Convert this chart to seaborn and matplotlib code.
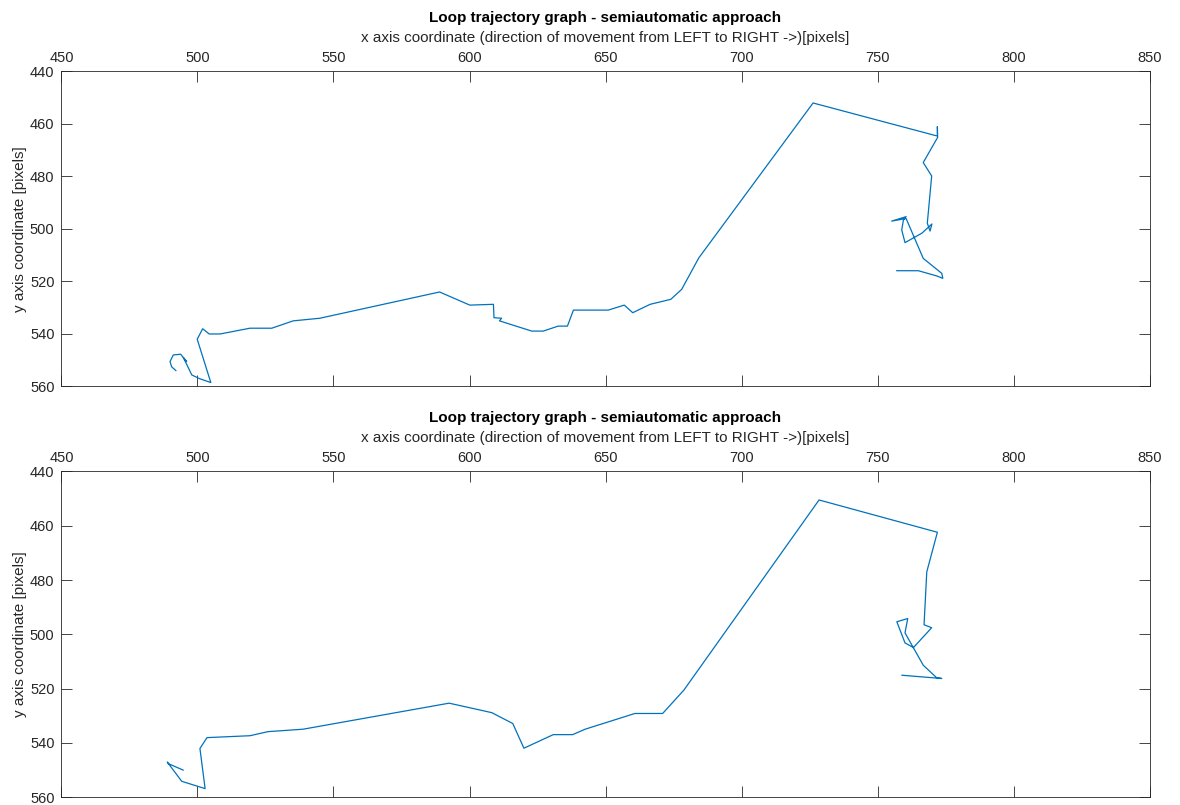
import numpy as np
import pandas as pd
import seaborn as sns
import matplotlib.pyplot as plt

# trajectory points (x, y in pixels)
x_top = [492.1, 490.5, 489.9, 491.1, 493.8, 496.0, 494.8, 496.0, 497.9, 499.7,
         500.7, 504.9, 499.9, 501.9, 504.3, 508.3, 519.3, 527.3, 535.2, 545.0,
         589.0, 600.1, 608.8, 609.0, 611.8, 611.0, 622.9, 627.1, 632.6, 636.0,
         638.2, 651.0, 656.9, 660.0, 666.4, 674.0, 678.0, 684.3, 726.3, 772.0,
         772.0, 772.1, 766.8, 769.9, 768.3, 769.3, 770.0, 766.3, 760.1, 758.9,
         759.5, 760.5, 755.2, 760.5, 766.8, 773.6, 774.0, 771.8, 765.0, 757.0]
y_top = [554.0, 552.5, 550.5, 548.0, 547.7, 550.5, 549.0, 551.5, 555.6, 556.5,
         557.0, 558.5, 542.0, 538.0, 540.0, 540.0, 537.8, 537.8, 535.0, 534.0,
         524.0, 529.0, 528.7, 533.8, 534.0, 535.0, 538.9, 538.9, 537.0, 537.0,
         530.9, 530.9, 529.0, 531.9, 528.7, 526.8, 523.0, 511.0, 452.0, 464.6,
         461.0, 465.1, 474.7, 479.8, 497.8, 500.8, 498.1, 501.6, 505.2, 500.4,
         496.6, 495.3, 497.0, 496.0, 511.2, 516.9, 518.8, 517.9, 515.9, 515.9]

x_bot = [494.8, 489.3, 488.9, 494.2, 502.8, 500.9, 503.5, 519.3, 525.9, 538.8,
         592.5, 608.2, 615.9, 620.0, 630.8, 637.9, 642.5, 660.8, 671.0, 678.8,
         728.5, 772.0, 768.1, 767.1, 769.9, 763.2, 760.1, 757.1, 761.1, 760.1,
         766.8, 771.7, 773.6, 758.9]
y_bot = [550.1, 547.7, 547.1, 554.2, 556.9, 542.1, 538.1, 537.4, 535.9, 535.0,
         525.4, 528.9, 532.9, 542.0, 537.0, 537.0, 535.0, 529.2, 529.2, 520.6,
         450.5, 462.4, 477.0, 496.5, 497.6, 504.9, 503.2, 495.4, 494.2, 499.5,
         511.4, 516.0, 516.3, 515.1]

title = "Loop trajectory graph - semiautomatic approach"
xlab = "x axis coordinate (direction of movement from LEFT to RIGHT ->)[pixels]"
ylab = "y axis coordinate [pixels]"

sns.set_style("white")
plt.rcParams["font.family"] = ["Liberation Sans", "DejaVu Sans"]

fig = plt.figure(figsize=(11.8, 8.05), dpi=100)
ax1 = fig.add_axes([0.0521, 0.5199, 0.9221, 0.3913])
ax2 = fig.add_axes([0.0521, 0.0099, 0.9221, 0.4044])

for ax, xs, ys in [(ax1, x_top, y_top), (ax2, x_bot, y_bot)]:
    df = pd.DataFrame({"x": xs, "y": ys})
    sns.lineplot(data=df, x="x", y="y", sort=False, estimator=None,
                 color="#0072BD", linewidth=0.9, ax=ax)
    ax.set_xlim(450, 850)
    ax.set_ylim(560, 440)
    ax.set_xticks(np.arange(450, 851, 50))
    ax.set_yticks(np.arange(440, 561, 20))
    ax.xaxis.set_label_position("top")
    ax.tick_params(direction="in", top=True, bottom=True, left=True, right=True,
                   labeltop=True, labelbottom=False, length=8, width=0.6,
                   color="#262626", labelcolor="#262626", labelsize=10.5, pad=5)
    for s in ax.spines.values():
        s.set_color("#262626")
        s.set_linewidth(0.6)
    ax.set_xlabel(xlab, fontsize=11, color="#262626", labelpad=6.5)
    ax.set_ylabel(ylab, fontsize=11, color="#262626", labelpad=2)
    ax.set_title(title, fontsize=11, fontweight="bold", color="black", pad=6)

fig.savefig("out.png", dpi=100)
